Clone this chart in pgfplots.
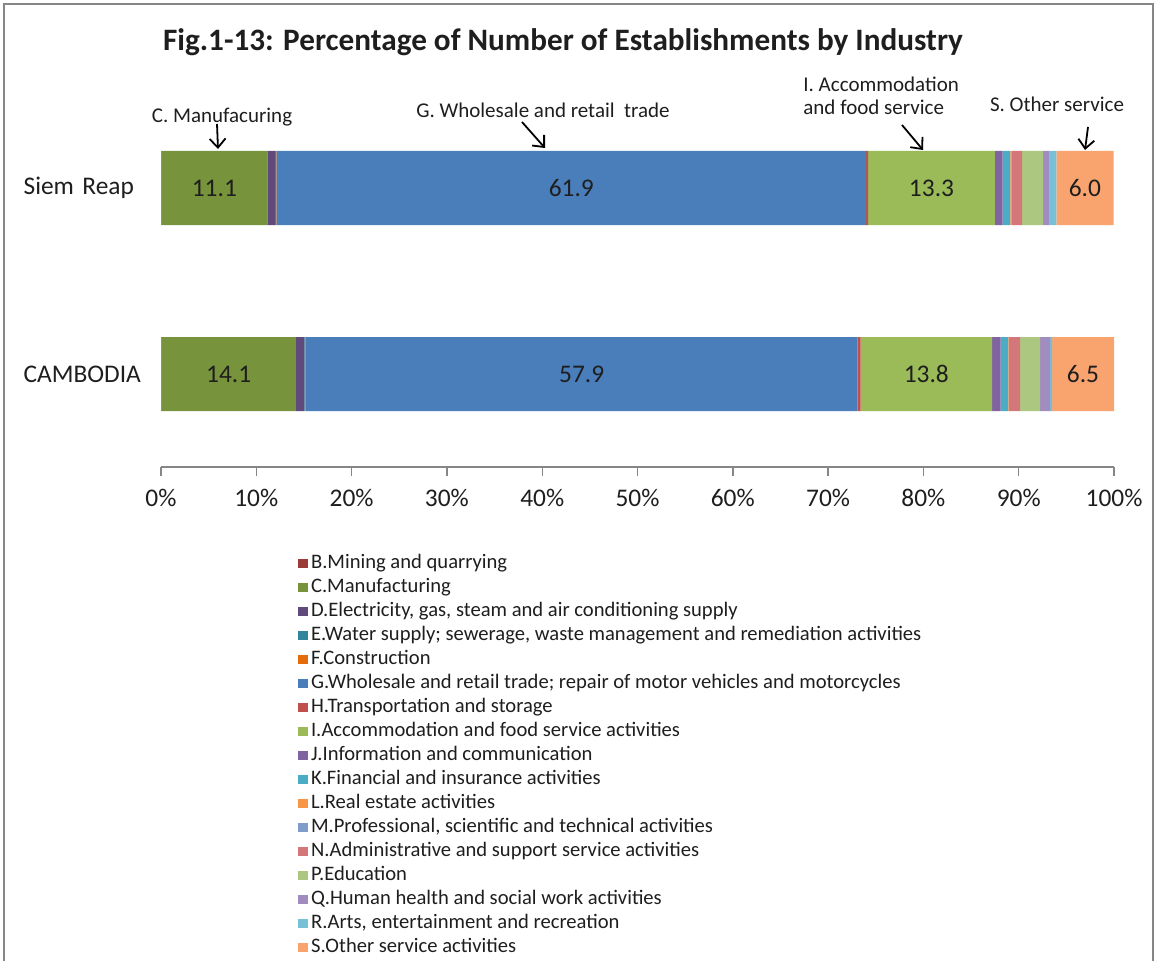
\documentclass[border=0pt]{standalone}
\usepackage{pgfplots}
\pgfplotsset{compat=1.18}
\usepackage{fontspec}
\setmainfont{Carlito}
\usetikzlibrary{arrows.meta}
\definecolor{cB}{HTML}{9B3B38}
\definecolor{cC}{HTML}{77933C}
\definecolor{cD}{HTML}{604A7B}
\definecolor{cE}{HTML}{31859C}
\definecolor{cF}{HTML}{E46C0A}
\definecolor{cG}{HTML}{4A7EBB}
\definecolor{cH}{HTML}{C0504D}
\definecolor{cI}{HTML}{9BBB59}
\definecolor{cJ}{HTML}{8064A2}
\definecolor{cK}{HTML}{4BACC6}
\definecolor{cL}{HTML}{F79646}
\definecolor{cM}{HTML}{7F9CCB}
\definecolor{cN}{HTML}{D4777A}
\definecolor{cP}{HTML}{ACC77F}
\definecolor{cQ}{HTML}{A08CBF}
\definecolor{cR}{HTML}{78C0D8}
\definecolor{cS}{HTML}{F9A46F}
\definecolor{axisgray}{HTML}{868686}
\definecolor{txt}{HTML}{1E1E1E}
\pgfplotsset{
  vlabel/.style={
    nodes near coords={\pgfmathprintnumber[fixed,fixed zerofill,precision=1]{\rawx}},
    visualization depends on={rawx \as \rawx}
  }
}
\begin{document}
\begin{tikzpicture}
\useasboundingbox (0,0) rectangle (577.5pt,-480.5pt);
\draw[color=axisgray, line width=1.2pt] (2pt,-480.5pt) -- (2pt,-2pt) -- (576.6pt,-2pt) -- (576.6pt,-480.5pt);
\begin{axis}[
  at={(80.5pt,-233.5pt)}, anchor=south west,
  scale only axis, width=476.5pt, height=186pt,
  xbar stacked, bar width=37pt,
  xmin=0, xmax=100, ymin=-0.5, ymax=1.5,
  /pgf/number format/assume math mode=true,
  axis x line*=bottom, axis y line*=left,
  x axis line style={-, draw=axisgray, line width=0.7pt},
  y axis line style={draw=none},
  xtick={0,10,...,100},
  xticklabels={0\%,10\%,20\%,30\%,40\%,50\%,60\%,70\%,80\%,90\%,100\%},
  tick align=outside, major tick length=4.5pt,
  xtick style={draw=axisgray, line width=0.7pt},
  ytick={0,1}, yticklabels={CAMBODIA,Siem Reap},
  ytick style={draw=none},
  xticklabel style={font=\fontsize{12.7}{15}\selectfont, text=txt, yshift=-3pt},
  yticklabel style={font=\fontsize{12.7}{15}\selectfont, text=txt, text width=59pt, align=left, inner sep=0pt, xshift=-5pt},
  every axis plot/.append style={draw=none},
  every node near coord/.style={anchor=center,
      font=\fontsize{12.7}{15}\selectfont, text=txt},
  legend style={draw=none, fill=none, at={(0.1438,-0.2258)}, anchor=north west,
    font=\fontsize{10.3}{12}\selectfont, text=txt, row sep=0pt, inner sep=0pt,
    nodes={inner sep=1.5pt, text height=7pt, text depth=2pt}},
  legend cell align=left,
  legend image code/.code={\fill[#1] (0pt,-2.4pt) rectangle (4.8pt,2.4pt);},
]
\addplot[fill=cB] coordinates {(0.05,1) (0.05,0)};
\addplot[fill=cC, vlabel] coordinates {(11.1,1) (14.1,0)};
\addplot[fill=cD] coordinates {(0.8,1) (0.9,0)};
\addplot[fill=cE] coordinates {(0.1,1) (0.1,0)};
\addplot[fill=cF] coordinates {(0.05,1) (0.05,0)};
\addplot[fill=cG, vlabel] coordinates {(61.9,1) (57.9,0)};
\addplot[fill=cH] coordinates {(0.2,1) (0.3,0)};
\addplot[fill=cI, vlabel] coordinates {(13.3,1) (13.8,0)};
\addplot[fill=cJ] coordinates {(0.8,1) (0.9,0)};
\addplot[fill=cK] coordinates {(0.8,1) (0.8,0)};
\addplot[fill=cL] coordinates {(0.05,1) (0.05,0)};
\addplot[fill=cM] coordinates {(0.1,1) (0.05,0)};
\addplot[fill=cN] coordinates {(1.1,1) (1.15,0)};
\addplot[fill=cP] coordinates {(2.2,1) (2.1,0)};
\addplot[fill=cQ] coordinates {(0.7,1) (1.05,0)};
\addplot[fill=cR] coordinates {(0.7,1) (0.2,0)};
\addplot[fill=cS, vlabel] coordinates {(6.0,1) (6.5,0)};
\legend{B.Mining and quarrying,
C.Manufacturing,
{D.Electricity, gas, steam and air conditioning supply},
{E.Water supply; sewerage, waste management and remediation activities},
F.Construction,
G.Wholesale and retail trade; repair of motor vehicles and motorcycles,
H.Transportation and storage,
I.Accommodation and food service activities,
J.Information and communication,
K.Financial and insurance activities,
L.Real estate activities,
{M.Professional, scientific and technical activities},
N.Administrative and support service activities,
P.Education,
Q.Human health and social work activities,
{R.Arts, entertainment and recreation},
S.Other service activities}
\end{axis}
\begin{scope}[x=0.5pt,y=-0.5pt]
\node[anchor=base, font=\fontsize{15.6}{18}\selectfont\bfseries, text=txt] at (563,51) {Fig.1-13: Percentage of Number of Establishments by Industry};
\begin{scope}[every node/.style={font=\fontsize{10.5}{12.5}\selectfont, text=txt}]
\node[anchor=base] at (222,123) {C. Manufacuring};
\node[anchor=base] at (543,118) {G. Wholesale and retail\ \ trade};
\node[anchor=base west, inner sep=0pt] at (803,92) {I. Accommodation};
\node[anchor=base west, inner sep=0pt] at (803,115) {and food service};
\node[anchor=base] at (1057,112) {S. Other service};
\end{scope}
\begin{scope}[line width=0.9pt, -{Straight Barb[length=4.5pt,width=8pt]}]
\draw (217,124) -- (218,149);
\draw (522,122) -- (545,148);
\draw (902,125) -- (923,150);
\draw (1088,127) -- (1085,150);
\end{scope}
\end{scope}
\end{tikzpicture}
\end{document}
